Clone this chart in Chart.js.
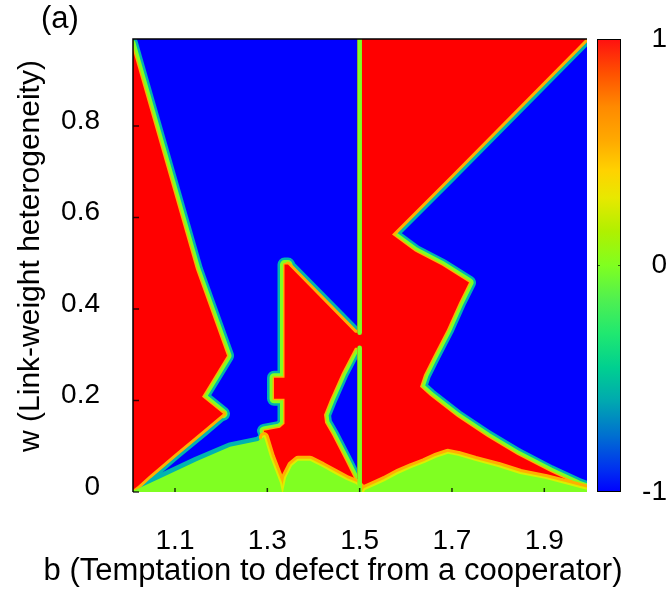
<!DOCTYPE html>
<html lang="en">
<head>
  <meta charset="UTF-8">
  <title>Phase diagram b-w</title>
  <script src="https://cdn.jsdelivr.net/npm/chart.js"></script>
  <style>
    body, html { margin: 0; padding: 0; background: #fff; overflow: hidden; }
    canvas { display: block; }
  </style>
</head>
<body>
  <canvas id="phaseChart" width="667" height="599"></canvas>

  <script>
    // Axis ranges and tick labels
    const bRange = [1.009, 1.9925];
    const wRange = [0, 0.99];
    const bTicks = [1.1, 1.3, 1.5, 1.7, 1.9];
    const bTickLabels = ['1.1', '1.3', '1.5', '1.7', '1.9'];
    const wTicks = [0, 0.2, 0.4, 0.6, 0.8];
    const wTickLabels = ['0', '0.2', '0.4', '0.6', '0.8'];
    const colorTicks = [-1, 0, 1];
    const colorTickLabels = ['-1', '0', '1'];

    // Phase boundaries, as [b, w] pairs
    // cooperator (1) / defector (-1) borders
    const leftEdgeUpper = [[1.0047, 0.9805], [1.0133, 0.95], [1.1455, 0.486], [1.2127, 0.2978],
      [1.1585, 0.2081], [1.204, 0.171]];
    const leftEdgeLower = [[1.204, 0.171], [1.1628, 0.1359], [1.1022, 0.0855], [1.0437, 0.0352],
      [1.0198, 0.0133], [1.0025, 0.0]];
    const midEdgeLeft = [[1.2928, 0.1337], [1.3275, 0.1403], [1.3372, 0.149], [1.3372, 0.2037],
      [1.3145, 0.2037], [1.3145, 0.2497], [1.3372, 0.2497], [1.3372, 0.497], [1.3448, 0.497]];
    const midEdgeTop = [[1.3448, 0.497], [1.49, 0.3481], [1.506, 0.3481]];
    const midEdgeRight = [[1.506, 0.3153], [1.49, 0.3153], [1.4618, 0.2606], [1.4358, 0.2015],
      [1.4228, 0.1687], [1.425, 0.1512], [1.4401, 0.125], [1.4683, 0.0702], [1.4834, 0.0396],
      [1.4921, 0.022]];
    const rightDiagonal = [[2.0, 1.0], [1.7001, 0.6939], [1.5701, 0.5626]];
    const rightLower = [[1.5701, 0.5626], [1.62, 0.5254], [1.6784, 0.4948], [1.7369, 0.4576],
      [1.7153, 0.4138], [1.6893, 0.3549], [1.6611, 0.3], [1.6394, 0.2562], [1.6308, 0.23],
      [1.6524, 0.2103], [1.7109, 0.1643], [1.7759, 0.1206], [1.8409, 0.0812], [1.9124, 0.044],
      [1.9731, 0.0155], [2.0034, 0.0046]];

    // mixed (0) region borders
    const greenLeftTop = [[0.99, 0.004], [1.0133, 0.0046], [1.074, 0.033], [1.1477, 0.068],
      [1.2192, 0.0987], [1.2798, 0.1112], [1.2928, 0.12]];
    const greenLeftRight = [[1.2928, 0.12], [1.3058, 0.0768], [1.3166, 0.0484], [1.3275, 0.0199],
      [1.334, -0.01]];
    const midHump = [[1.334, -0.01], [1.334, 0.0], [1.3405, 0.0309], [1.3535, 0.0571],
      [1.3665, 0.0681], [1.3925, 0.0681], [1.4184, 0.055], [1.4466, 0.0396], [1.4704, 0.0265],
      [1.4921, 0.0177], [1.4995, 0.01], [1.5, -0.01]];
    const rightHump = [[1.505, -0.01], [1.5116, 0.0046], [1.5311, 0.0133], [1.5549, 0.0243],
      [1.5831, 0.0396], [1.6134, 0.0528], [1.6416, 0.0637], [1.6654, 0.0746], [1.6914, 0.0834],
      [1.7131, 0.079], [1.7499, 0.0681], [1.7997, 0.0549], [1.8474, 0.0396], [1.9016, 0.0287],
      [1.9449, 0.0177], [1.9774, 0.009], [2.0034, 0.0024], [2.01, -0.01]];

    // the b = 1.5 column (value 0), broken where the two cooperator areas join
    const dividerUpper = [[1.5, 1.01], [1.5, 0.3481]];
    const dividerLower = [[1.5, 0.3153], [1.5, -0.01]];

    // Closed regions built from the borders
    const redLeft = [[0.99, 0.9805], ...leftEdgeUpper, ...leftEdgeLower.slice(1), [0.99, 0.0]];
    const redMiddle = [...midEdgeLeft, ...midEdgeTop.slice(1), ...midEdgeRight,
      ...midHump.slice().reverse(), ...greenLeftRight.slice().reverse()];
    const redRight = [[1.495, 1.01], [2.0, 1.01], ...rightDiagonal, ...rightLower.slice(1),
      [2.01, -0.01], [1.495, -0.01]];
    const greenLeft = [...greenLeftTop, ...greenLeftRight.slice(1), [0.99, -0.01]];

    // Colours (gnuplot-like rainbow)
    const RED = '#ff0000', BLUE = '#0000ff', GREEN = '#80ff22';
    const ORANGE = '#ffb000', YELLOW = '#dcf000', TEAL = '#00b4b0';
    const paletteStops = [[-1, '#0000ff'], [-0.9, '#0030f0'], [-0.75, '#0070d0'], [-0.6, '#00a8b0'],
      [-0.45, '#00d090'], [-0.3, '#20e870'], [-0.15, '#50f050'], [0, '#80ff20'], [0.15, '#b0f000'],
      [0.3, '#e8e800'], [0.42, '#ffd200'], [0.55, '#ffaa00'], [0.7, '#ff8a00'], [0.85, '#ff5000'],
      [1, '#ff1010']];

    const FONT = '"Liberation Sans", Arial, Helvetica, sans-serif';

    const toPoints = pairs => pairs.map(([b, w]) => ({ x: b, y: w }));

    function edge(pairs, color, width) {
      return {
        data: toPoints(pairs), showLine: true, fill: false,
        borderColor: color, borderWidth: width, borderJoinStyle: 'round', borderCapStyle: 'round',
        pointRadius: 0, clip: 0
      };
    }
    function area(pairs, color) {
      return {
        data: toPoints(pairs), showLine: true, fill: 'shape',
        backgroundColor: color, borderWidth: 0, pointRadius: 0, clip: 0
      };
    }

    const triEdges = [leftEdgeUpper, midEdgeLeft, midEdgeRight, rightLower];
    const duoEdges = [leftEdgeLower, midEdgeTop, rightDiagonal];
    const redGreenEdges = [greenLeftRight, midHump, rightHump];

    // Listed bottom layer first
    const layers = [
      ...triEdges.map(e => edge(e, TEAL, 14)),
      ...duoEdges.map(e => edge(e, TEAL, 12)),
      edge(greenLeftTop, TEAL, 9),
      ...triEdges.map(e => edge(e, GREEN, 9)),
      ...triEdges.map(e => edge(e, ORANGE, 3)),
      ...duoEdges.map(e => edge(e, ORANGE, 6)),
      area(redLeft, RED), area(redMiddle, RED), area(redRight, RED),
      ...redGreenEdges.map(e => edge(e, ORANGE, 10)),
      ...redGreenEdges.map(e => edge(e, YELLOW, 4)),
      area(greenLeft, GREEN), area(midHump, GREEN), area(rightHump, GREEN),
      edge(dividerUpper, GREEN, 4.6), edge(dividerLower, GREEN, 4.6)
    ];
    layers.forEach((ds, i) => { ds.order = layers.length - i; });

    const fixedTicks = values => scale => { scale.ticks = values.map(v => ({ value: v })); };
    // keep the plot box where the layout puts it: no extra room for end labels
    const noEndPadding = size => scale => {
      if (scale.isHorizontal()) scale.height = size; else scale.width = size;
      scale.paddingTop = scale.paddingBottom = scale.paddingLeft = scale.paddingRight = 0;
    };

    // Blue field, frame, inner ticks, colour box and titles
    const decorations = {
      id: 'decorations',
      beforeDatasetsDraw(chart) {
        const { ctx, chartArea: a } = chart;
        ctx.save();
        ctx.fillStyle = BLUE;
        ctx.fillRect(a.left, a.top, a.right - a.left, a.bottom - a.top);
        ctx.restore();
      },
      afterDraw(chart) {
        const { ctx, chartArea: a, scales } = chart;
        ctx.save();

        // inner tick marks
        ctx.strokeStyle = 'rgba(0,0,0,0.8)';
        ctx.lineWidth = 1.5;
        ctx.beginPath();
        wTicks.forEach(v => {
          const y = scales.y.getPixelForValue(v);
          ctx.moveTo(a.left, y); ctx.lineTo(a.left + 6, y);
        });
        bTicks.forEach(v => {
          const x = scales.x.getPixelForValue(v);
          ctx.moveTo(x, a.bottom); ctx.lineTo(x, a.bottom - 4);
        });
        ctx.stroke();

        // frame (left and top)
        ctx.strokeStyle = '#000';
        ctx.lineWidth = 1.5;
        ctx.beginPath();
        ctx.moveTo(a.left, a.bottom);
        ctx.lineTo(a.left, a.top);
        ctx.lineTo(a.right, a.top);
        ctx.stroke();

        // colour box
        const c = scales.c;
        const x0 = c.left + 10, x1 = c.left + 34;
        const yLo = c.getPixelForValue(-1), yHi = c.getPixelForValue(1);
        const grad = ctx.createLinearGradient(0, yLo, 0, yHi);
        paletteStops.forEach(([v, col]) => grad.addColorStop((v + 1) / 2, col));
        ctx.fillStyle = grad;
        ctx.fillRect(x0, yHi, x1 - x0, yLo - yHi);
        ctx.strokeStyle = '#000';
        ctx.lineWidth = 1;
        ctx.strokeRect(x0 + 0.5, yHi + 0.5, x1 - x0 - 1, yLo - yHi - 1);
        ctx.strokeStyle = 'rgba(0,0,0,0.6)';
        ctx.beginPath();
        const y0 = c.getPixelForValue(0);
        ctx.moveTo(x0, y0); ctx.lineTo(x0 + 3, y0);
        ctx.moveTo(x1 - 3, y0); ctx.lineTo(x1, y0);
        ctx.stroke();

        // titles
        ctx.fillStyle = '#000';
        ctx.textAlign = 'center';
        ctx.textBaseline = 'alphabetic';
        ctx.font = '31px ' + FONT;
        ctx.fillText('b (Temptation to defect from a cooperator)', 333, 580);

        ctx.save();
        ctx.font = '30px ' + FONT;
        ctx.translate(31, 256);
        ctx.rotate(-Math.PI / 2);
        ctx.textBaseline = 'middle';
        ctx.fillText('w (Link-weight heterogeneity)', 0, 0);
        ctx.restore();

        ctx.font = '31px ' + FONT;
        ctx.textAlign = 'left';
        ctx.fillText('(a)', 41, 28);
        ctx.restore();
      }
    };

    const tickFont = { family: FONT, size: 28 };

    new Chart(document.getElementById('phaseChart').getContext('2d'), {
      type: 'scatter',
      data: { datasets: layers },
      options: {
        responsive: false,
        animation: false,
        events: [],
        devicePixelRatio: 1,
        layout: { padding: { top: 39, left: 0, right: 0, bottom: 0 } },
        scales: {
          x: {
            type: 'linear', min: bRange[0], max: bRange[1],
            afterBuildTicks: fixedTicks(bTicks),
            afterFit: noEndPadding(107),
            grid: { display: false }, border: { display: false },
            ticks: {
              callback: (v, i) => bTickLabels[i], font: tickFont, color: '#000',
              padding: 24, maxRotation: 0, autoSkip: false
            }
          },
          y: {
            type: 'linear', min: wRange[0], max: wRange[1],
            afterBuildTicks: fixedTicks(wTicks),
            afterFit: noEndPadding(133),
            grid: { display: false }, border: { display: false },
            ticks: {
              callback: (v, i) => wTickLabels[i], font: tickFont, color: '#000',
              padding: 25, labelOffset: -5, autoSkip: false
            }
          },
          c: {
            type: 'linear', position: 'right', min: -1, max: 1,
            afterBuildTicks: fixedTicks(colorTicks),
            afterFit: noEndPadding(80),
            grid: { display: false }, border: { display: false },
            ticks: {
              callback: (v, i) => colorTickLabels[i], font: tickFont, color: '#000',
              padding: 51, crossAlign: 'far', autoSkip: false
            }
          }
        },
        plugins: {
          legend: { display: false },
          tooltip: { enabled: false }
        }
      },
      plugins: [decorations]
    });
  </script>
</body>
</html>
